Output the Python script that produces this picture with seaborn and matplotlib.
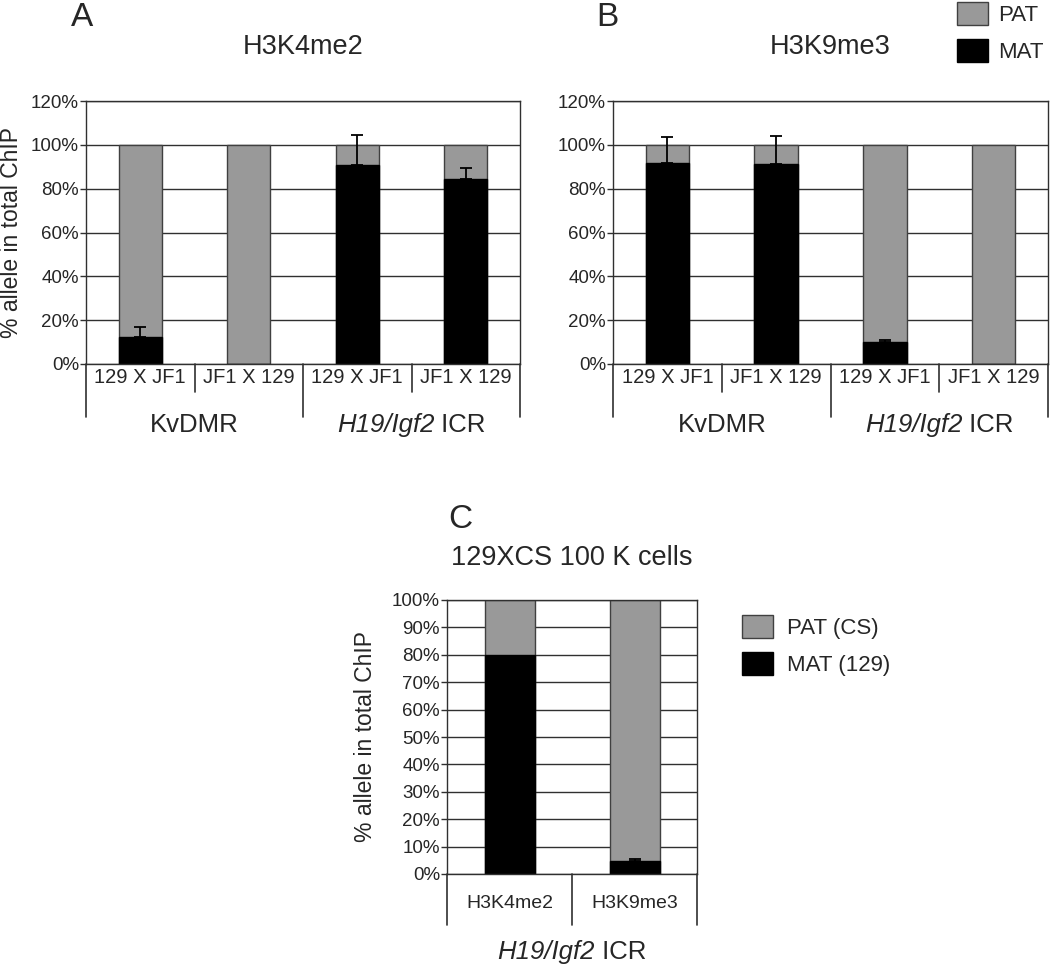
import matplotlib
matplotlib.use("Agg")
import matplotlib.pyplot as plt
from matplotlib.ticker import FuncFormatter
import seaborn as sns

# --- Data ---
crosses = ["129 X JF1", "JF1 X 129", "129 X JF1", "JF1 X 129"]
groups = ["KvDMR", "H19/Igf2 ICR"]
italic_part = "H19/Igf2"

# % maternal allele (black) and upper error bar, panels A and B
mat_A = [12.4, 0.0, 90.8, 84.4]
err_A = [4.6, 0.0, 13.8, 5.0]
mat_B = [91.7, 91.1, 10.2, 0.0]
err_B = [11.7, 12.9, 0.8, 0.0]

# panel C
marks_C = ["H3K4me2", "H3K9me3"]
mat_C = [80.0, 4.9]
err_C = [0.0, 0.4]

PAT_COLOR = "#999999"
MAT_COLOR = "#000000"
LINE = "#303030"

sns.set_style("white")
plt.rcParams["font.family"] = ["Liberation Sans", "DejaVu Sans"]

W, H = 1050, 968
fig = plt.figure(figsize=(W / 100, H / 100), dpi=100)


def px_axes(left, top, right, bottom):
    return fig.add_axes([left / W, 1 - bottom / H, (right - left) / W, (bottom - top) / H])


def stacked(ax, mat, err, keys, pat_label, mat_label):
    total = [100.0] * len(mat)
    sns.barplot(x=keys, y=total, color=PAT_COLOR, edgecolor="#404040", linewidth=1,
                width=0.4, saturation=1, ax=ax, label=pat_label)
    sns.barplot(x=keys, y=mat, color=MAT_COLOR, edgecolor="black", linewidth=1,
                width=0.4, saturation=1, ax=ax, label=mat_label)
    idx = [i for i, e in enumerate(err) if e > 0]
    ax.errorbar(idx, [mat[i] for i in idx],
                yerr=[[0] * len(idx), [err[i] for i in idx]],
                fmt="none", ecolor="black", elinewidth=1.3, capsize=4, capthick=1.3, zorder=5)
    ax.set_xlim(-0.5, len(mat) - 0.5)
    ax.yaxis.grid(True, color=LINE, linewidth=1)
    ax.set_axisbelow(True)
    for s in ax.spines.values():
        s.set_color(LINE)
        s.set_linewidth(1)
    ax.yaxis.set_major_formatter(FuncFormatter(lambda v, p: f"{v:.0f}%"))
    ax.tick_params(axis="y", left=True, length=4, width=1, color=LINE, pad=1, labelsize=13.5)
    ax.set_xlabel("")
    if ax.get_legend() is not None:
        ax.get_legend().remove()


def cat_dividers(ax, xs, depth):
    tr = ax.get_xaxis_transform()
    for x, d in zip(xs, depth):
        ax.plot([x, x], [0, d], transform=tr, color=LINE, lw=1.2, clip_on=False)


def group_label(ax, x, y, text, size=18.5):
    tr = ax.get_xaxis_transform()
    if not text.startswith(italic_part):
        ax.text(x, y, text, transform=tr, ha="center", va="center", fontsize=size)
        return
    # italic gene names + upright rest, centred as one string
    dx = 23 * size / 18.5
    ax.annotate(italic_part, xy=(x, y), xycoords=tr, xytext=(dx, 0), textcoords="offset pixels",
                ha="right", va="center", fontsize=size, style="italic")
    ax.annotate(text[len(italic_part):], xy=(x, y), xycoords=tr, xytext=(dx, 0),
                textcoords="offset pixels", ha="left", va="center", fontsize=size)


ylab = "% allele in total ChIP"

# --- Panels A and B ---
for name, left, right, mat, err, title, letter_x in [
    ("A", 86, 520, mat_A, err_A, "H3K4me2", 82),
    ("B", 613, 1048, mat_B, err_B, "H3K9me3", 607),
]:
    ax = px_axes(left, 101, right, 364)
    keys = [f"{g}{i}" for i, g in enumerate(crosses)]
    stacked(ax, mat, err, keys, "PAT", "MAT")
    ax.set_ylim(0, 120)
    ax.set_yticks(range(0, 121, 20))
    ax.set_xticks(range(4), labels=crosses)
    ax.tick_params(axis="x", length=0, pad=3, labelsize=14.5)
    cat_dividers(ax, [-0.5, 0.5, 1.5, 2.5, 3.5], [-0.2015, -0.106, -0.2015, -0.106, -0.2015])
    for gx, g in zip([0.5, 2.5], groups):
        group_label(ax, gx, -0.232, g)
    ax.text(0.5, 1.205, title, transform=ax.transAxes, ha="center", va="center", fontsize=19.5)
    fig.text(letter_x / W, 1 - 17 / H, name, ha="center", va="center", fontsize=24)
    if name == "A":
        ax.set_ylabel(ylab, fontsize=16.5)
        ax.yaxis.set_label_coords(-0.145, 0.5)
        handles, labels = ax.get_legend_handles_labels()
    else:
        ax.set_ylabel("")

fig.legend(handles[:2], labels[:2], loc="upper left", bbox_to_anchor=(946 / W, 1 + 9 / H),
           frameon=False, fontsize=16, handlelength=1.4, handleheight=1.2,
           handletextpad=0.45, labelspacing=0.6, borderpad=0)

# --- Panel C ---
axc = px_axes(447, 600, 697, 874)
stacked(axc, mat_C, err_C, marks_C, "PAT (CS)", "MAT (129)")
axc.set_ylim(0, 100)
axc.set_yticks(range(0, 101, 10))
axc.set_xticks(range(2), labels=marks_C)
axc.tick_params(axis="x", length=0, pad=15, labelsize=14)
cat_dividers(axc, [-0.5, 0.5, 1.5], [-0.186, -0.186, -0.186])
group_label(axc, 0.5, -0.285, groups[1])
axc.text(0.5, 1.153, "129XCS 100 K cells", transform=axc.transAxes, ha="center", va="center",
         fontsize=19.5)
fig.text(460 / W, 1 - 520 / H, "C", ha="center", va="center", fontsize=24)
axc.set_ylabel(ylab, fontsize=16.5)
axc.yaxis.set_label_coords(-0.28, 0.5)
h, l = axc.get_legend_handles_labels()
fig.legend(h[:2], l[:2], loc="upper left", bbox_to_anchor=(731 / W, 1 - 604 / H),
           frameon=False, fontsize=16, handlelength=1.4, handleheight=1.2,
           handletextpad=0.6, labelspacing=0.6, borderpad=0)

fig.savefig("out.png", dpi=100)
